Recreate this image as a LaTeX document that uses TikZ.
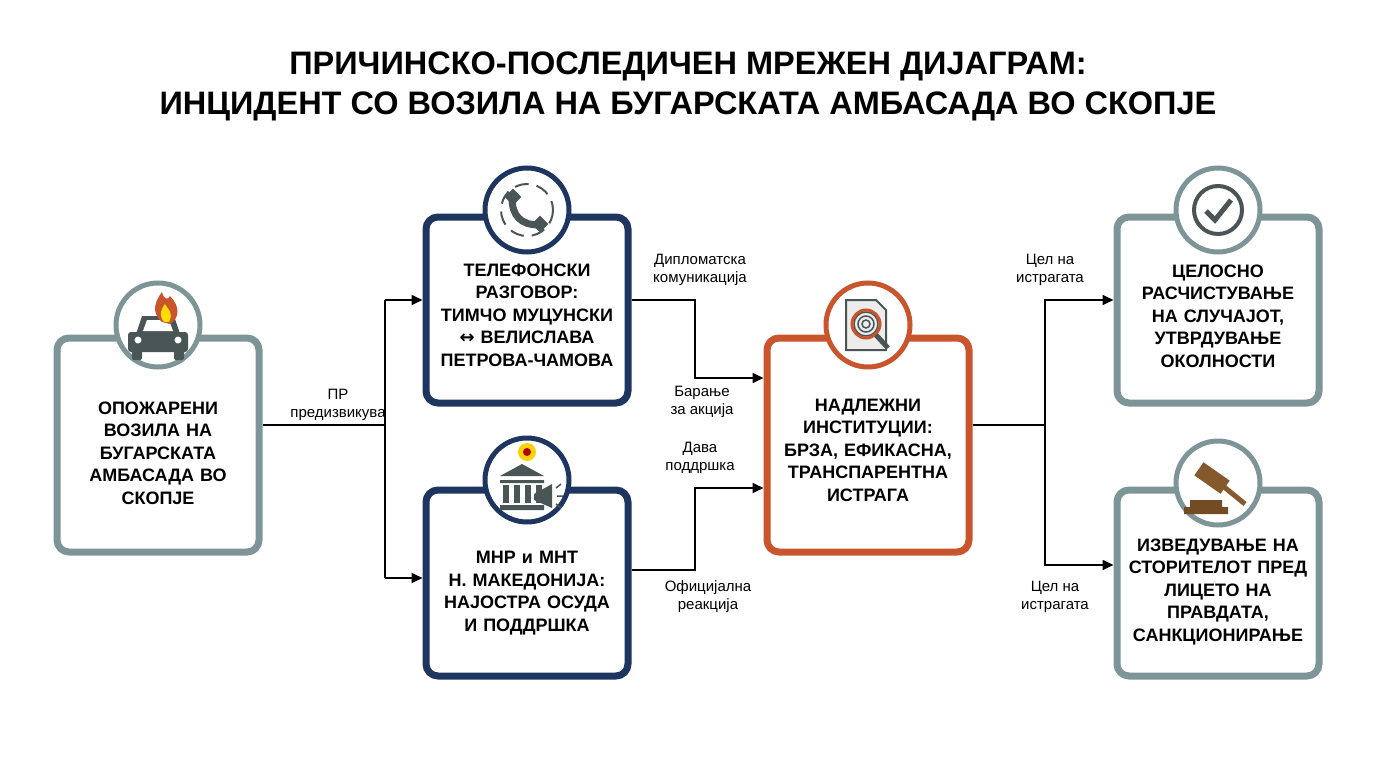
\documentclass[tikz,border=0pt]{standalone}
\usepackage{fontspec}
\setmainfont{Liberation Sans}
\usetikzlibrary{arrows.meta}
\definecolor{gr}{HTML}{7E9597}
\definecolor{nv}{HTML}{1E3560}
\definecolor{or}{HTML}{C9552C}
\definecolor{ic}{HTML}{4A5556}
\begin{document}
\begin{tikzpicture}[x=1pt,y=-1pt,
 box/.style={draw=#1,line width=7pt,rounded corners=12pt,fill=white,minimum width=202pt,align=center,font=\bfseries\fontsize{18}{22.5}\selectfont},
 circ/.style={circle,draw=#1,line width=5pt,fill=white,minimum size=84pt},
 lab/.style={align=center,font=\fontsize{15}{18}\selectfont},
 ar/.style={line width=1.6pt,-{Triangle[length=11pt,width=10pt]}},
 ln/.style={line width=1.6pt}]
\useasboundingbox (0,0) rectangle (1376,768);
\fill[white] (0,0) rectangle (1376,768);
\node[font=\bfseries\fontsize{32.5}{40}\selectfont,align=center] (title) at (688,86) {ПРИЧИНСКО-ПОСЛЕДИЧЕН МРЕЖЕН ДИЈАГРАМ:\\ИНЦИДЕНТ СО ВОЗИЛА НА БУГАРСКАТА АМБАСАДА ВО СКОПЈЕ};
% boxes
\node[box=gr,minimum height=214pt,text width=186pt] (a) at (158,445) {\\[6pt]ОПОЖАРЕНИ\\ВОЗИЛА НА\\БУГАРСКАТА\\АМБАСАДА ВО\\СКОПЈЕ};
\node[box=nv,minimum height=186pt,text width=186pt] (b) at (527,310) {\\[0pt]ТЕЛЕФОНСКИ\\РАЗГОВОР:\\ТИМЧО МУЦУНСКИ\\{\fontspec{DejaVu Sans}\bfseries ↔} ВЕЛИСЛАВА\\ПЕТРОВА-ЧАМОВА};
\node[box=nv,minimum height=186pt,text width=186pt] (c) at (527,583) {\\[10pt]МНР и МНТ\\Н. МАКЕДОНИЈА:\\НАЈОСТРА ОСУДА\\И ПОДДРШКА};
\node[box=or,minimum height=214pt,text width=186pt] (d) at (868,445) {\\[0pt]НАДЛЕЖНИ\\ИНСТИТУЦИИ:\\БРЗА, ЕФИКАСНА,\\ТРАНСПАРЕНТНА\\ИСТРАГА};
\node[box=gr,minimum height=186pt,text width=186pt] (e) at (1218,310) {\\[2pt]ЦЕЛОСНО\\РАСЧИСТУВАЊЕ\\НА СЛУЧАЈОТ,\\УТВРДУВАЊЕ\\ОКОЛНОСТИ};
\node[box=gr,minimum height=186pt,text width=186pt] (f) at (1218,583) {\\[8pt]ИЗВЕДУВАЊЕ НА\\СТОРИТЕЛОТ ПРЕД\\ЛИЦЕТО НА\\ПРАВДАТА,\\САНКЦИОНИРАЊЕ};
% icon circles
\node[circ=gr] (ca) at (158,325) {};
\node[circ=nv] (cb) at (527,210) {};
\node[circ=nv] (cc) at (527,480) {};
\node[circ=or] (cd) at (868,325) {};
\node[circ=gr] (ce) at (1218,210) {};
\node[circ=gr] (cf) at (1218,483) {};
% car + fire
\fill[ic,rounded corners=3pt] (128,332) rectangle (188,352);
\fill[ic] (136,334) -- (142,316) -- (174,316) -- (180,334) -- cycle;
\fill[white] (143,331) -- (147,320) -- (169,320) -- (173,331) -- cycle;
\fill[ic,rounded corners=2pt] (132,348) rectangle (142,360) (174,348) rectangle (184,360);
\fill[white] (138,340) circle (3.5) (178,340) circle (3.5);
\fill[or] (162,322) .. controls (150,312) and (156,300) .. (162,292) .. controls (164,300) and (168,300) .. (170,296) .. controls (180,306) and (180,318) .. (170,324) -- cycle;
\fill[yellow!80!orange] (164,322) .. controls (158,314) and (162,308) .. (165,304) .. controls (168,310) and (174,312) .. (169,322) -- cycle;
% phone
\draw[ic,line width=2pt,dash pattern=on 14pt off 8pt] (527,210) circle (26);
\draw[ic,line width=7pt,line cap=round] (512,198) .. controls (512,216) and (521,225) .. (539,225);
\fill[ic,rotate around={-45:(513,197)}] (507,191) rectangle (519,203);
\fill[ic,rotate around={-45:(540,224)}] (534,218) rectangle (546,230);
% building + megaphone
\fill[ic] (500,476) -- (522,464) -- (544,476) -- cycle;
\fill[ic] (500,480) rectangle (544,483) (500,505) rectangle (544,510);
\foreach \i in {0,1,2,3}{\fill[ic] (503+\i*11,485) rectangle (509+\i*11,503);}
\fill[ic] (534,494) -- (552,484) -- (552,508) -- (534,500) -- cycle;
\draw[ic,line width=1.5pt] (556,488) -- (561,484) (557,496) -- (563,496) (556,504) -- (561,508);
\fill[yellow!70!orange] (527,452) circle (9);
\fill[red!70!black] (527,452) circle (4);
% document fingerprint
\fill[gray!15,draw=ic,line width=2pt] (846,300) -- (876,300) -- (886,310) -- (886,350) -- (846,350) -- cycle;
\draw[ic,line width=1.5pt] (866,324) circle (4) (866,324) circle (8) (866,324) circle (12);
\draw[or,line width=3pt] (866,324) circle (14);
\draw[ic,line width=5pt] (876,335) -- (888,348);
% check
\draw[ic,line width=4pt] (1218,210) circle (24);
\draw[ic,line width=5pt] (1206,211) -- (1215,220) -- (1231,200);
% gavel
\fill[brown!70!black,rotate around={-35:(1212,478)}] (1196,470) rectangle (1228,486);
\draw[brown!70!black,line width=5pt] (1218,482) -- (1245,504);
\fill[brown!60!black] (1190,500) rectangle (1222,507) (1184,507) rectangle (1228,514);
% connectors
\coordinate (s1) at (385,425);
\draw[ln] (a.east|-0,425) -- (s1);
\draw[ln] (385,300) -- (385,578);
\draw[ar] (385,300) -- (b.west|-385,300);
\draw[ar] (385,578) -- (c.west|-385,578);
\node[lab] (l1) at (338,405) {ПР\\предизвикува};
\draw[ar] (b.east|-0,300) -- (695,300) -- (695,378) -- (d.west|-0,378);
\draw[ar] (c.east|-0,570) -- (695,570) -- (695,488) -- (d.west|-0,488);
\node[lab] (l2) at (700,270) {Дипломатска\\комуникација};
\node[lab] (l3) at (702,402) {Барање\\за акција};
\node[lab] (l4) at (700,458) {Дава\\поддршка};
\node[lab] (l5) at (708,597) {Официјална\\реакција};
\draw[ar] (d.east|-0,425) -- (1045,425) -- (1045,300) -- (e.west|-0,300);
\draw[ar] (1045,425) -- (1045,565) -- (f.west|-0,565);
\node[lab] (l6) at (1050,270) {Цел на\\истрагата};
\node[lab] (l7) at (1055,597) {Цел на\\истрагата};
\end{tikzpicture}
\end{document}
